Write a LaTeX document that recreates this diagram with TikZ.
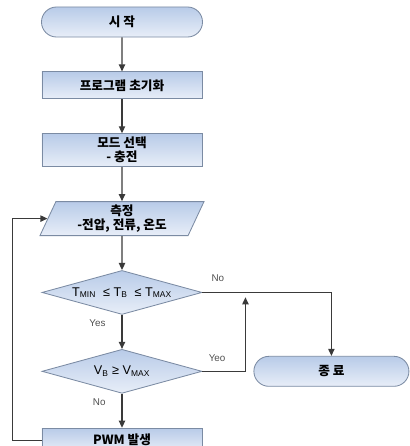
\documentclass[tikz,border=0pt]{standalone}
\usepackage{fontspec}
\setmainfont{Liberation Sans}
\newfontfamily\kr{Noto Sans CJK KR}
\usetikzlibrary{shapes.geometric, shapes.misc, arrows.meta, positioning}
\definecolor{shadetop}{HTML}{B8CBE8}
\definecolor{shadebot}{HTML}{E8EEF8}
\definecolor{edge}{HTML}{7B8BA3}
\definecolor{wire}{HTML}{3A3A3A}
\definecolor{note}{HTML}{505050}

\begin{document}
\begin{tikzpicture}[x=0.025cm, y=-0.025cm,
    node distance=0.85cm,
    base/.style={draw=edge, line width=0.6pt, top color=shadetop, bottom color=shadebot, font=\kr\bfseries\small, align=center, inner sep=0pt},
    term/.style={base, rounded rectangle, minimum height=0.75cm},
    box/.style={base, rectangle, minimum width=4cm},
    io/.style={base, trapezium, trapezium left angle=60, trapezium right angle=120, trapezium stretches body, minimum width=4.1cm, minimum height=0.85cm},
    test/.style={base, diamond, aspect=3.6, minimum width=4cm, minimum height=1.1cm, font=\small},
    arrow/.style={-{Triangle[length=5pt,width=4.5pt]}, draw=wire, line width=0.8pt},
    lbl/.style={font=\scriptsize, text=note}
]
\useasboundingbox (0,0) rectangle (409,446);
\node[term, minimum width=4.025cm] (start) at (122,22) {시 작};
\node[box, minimum height=0.675cm, below=of start] (init) {프로그램 초기화};
\node[box, minimum height=0.825cm, below=of init] (mode) {모드 선택\\[-1pt]- 충전};
\node[io, below=of mode] (measure) {측정\\[-1pt]-전압, 전류, 온도};
\node[test, below=of measure] (tcheck) {T\textsubscript{MIN} \ ≤ T\textsubscript{B} \ ≤ T\textsubscript{MAX}};
\node[test, below=of tcheck] (vcheck) {V\textsubscript{B} ≥ V\textsubscript{MAX}};
\node[box, minimum height=0.6cm, below=of vcheck] (pwm) {PWM 발생};
\node[term, minimum width=3.875cm, right=1.275cm of vcheck] (stop) {종 료};
\coordinate (merge) at ([xshift=1.075cm, yshift=-0.12cm]tcheck.east);
\draw[arrow] (start) -- (init);
\draw[arrow] (init) -- (mode);
\draw[arrow] (mode) -- (measure);
\draw[arrow] (measure) -- (tcheck);
\draw[arrow] (tcheck) -- node[lbl, pos=0.25, left=8pt] {Yes} (vcheck);
\draw[arrow] (vcheck) -- node[lbl, pos=0.25, left=8pt] {No} (pwm);
\draw[arrow] (tcheck.east) -| node[lbl, pos=0.06, above=4pt] {No} (stop.north);
\draw[arrow] (vcheck.east) -| node[lbl, pos=0.17, above=3pt] {Yeo} (merge);
\draw[arrow] (pwm.west) -- ++(-0.725cm,0) |- (measure.west);
\end{tikzpicture}
\end{document}
